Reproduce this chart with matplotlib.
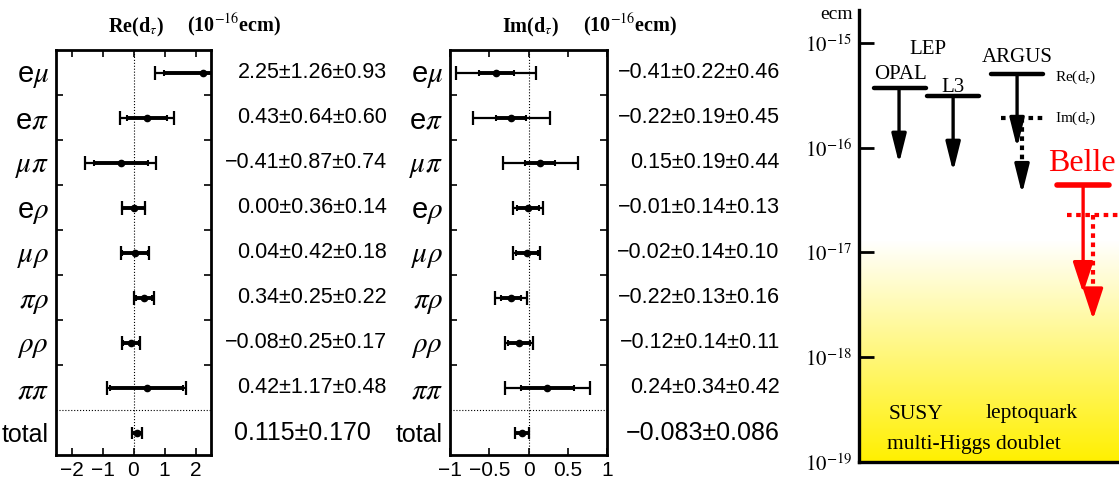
import numpy as np
import matplotlib
matplotlib.use('Agg')
import matplotlib.pyplot as plt
import matplotlib.transforms as mtransforms

plt.rcParams['font.family'] = ['Liberation Sans', 'DejaVu Sans']
plt.rcParams['mathtext.fontset'] = 'stix'

# --- DATA ---
modes = ['e$\\mu$', 'e$\\pi$', '$\\mu\\pi$', 'e$\\rho$', '$\\mu\\rho$',
         '$\\pi\\rho$', '$\\rho\\rho$', '$\\pi\\pi$']

re_val = [2.25, 0.43, -0.41, 0.00, 0.04, 0.34, -0.08, 0.42]
re_stat = [1.26, 0.64, 0.87, 0.36, 0.42, 0.25, 0.25, 1.17]
re_syst = [0.93, 0.60, 0.74, 0.14, 0.18, 0.22, 0.17, 0.48]
re_total = (0.115, 0.170)

im_val = [-0.41, -0.22, 0.15, -0.01, -0.02, -0.22, -0.12, 0.24]
im_stat = [0.22, 0.19, 0.19, 0.14, 0.14, 0.13, 0.14, 0.34]
im_syst = [0.46, 0.45, 0.44, 0.13, 0.10, 0.16, 0.11, 0.42]
im_total = (-0.083, 0.086)

# upper limits on |d_tau| (e cm)
exp_names = ['OPAL', 'L3', 'ARGUS', 'ARGUS', 'Belle', 'Belle']
exp_part = ['Re', 'Re', 'Re', 'Im', 'Re', 'Im']
exp_limit = [3.7e-16, 3.1e-16, 5.0e-16, 1.9e-16, 4.4e-17, 2.3e-17]

MINUS = '\u2212'
FIG_W, FIG_H = 11.19, 4.8


def fmt(v, nd=2):
    return f"{v:.{nd}f}".replace('-', MINUS)


def draw_panel(ax, val, stat, syst, total, xlim, xticks, xticklabels,
               title, txt_x, tot_txt_x):
    n = len(val)
    y = np.arange(n, 0, -1)  # first row at top
    val = np.array(val)
    stat = np.array(stat)
    syst = np.array(syst)
    tot_err = np.sqrt(stat ** 2 + syst ** 2)

    ax.set_xlim(*xlim)
    ax.set_ylim(-0.5, n + 0.5)
    ax.axvline(0, color='black', lw=0.8, ls=':', zorder=1)
    ax.axhline(0.5, color='black', lw=0.8, ls=':', zorder=1)

    ax.errorbar(val, y, xerr=tot_err, fmt='none', ecolor='black',
                elinewidth=1.6, capsize=4.8, capthick=1.6, zorder=3)
    ax.errorbar(val, y, xerr=stat, fmt='o', color='black', ms=4.5,
                elinewidth=2.8, capsize=2.5, capthick=1.5, zorder=4)
    ax.errorbar([total[0]], [0], xerr=[total[1]], fmt='o', color='black',
                ms=4.5, elinewidth=2.8, capsize=4.5, capthick=1.6, zorder=4)

    for sp in ax.spines.values():
        sp.set_linewidth(2)

    ax.set_xticks(xticks)
    ax.set_xticklabels(xticklabels, fontsize=15)
    ax.tick_params(axis='x', direction='in', top=True, bottom=True,
                   length=5, width=1.2, pad=4)
    ax.set_yticks(list(y) + [0])
    ax.set_yticklabels(modes + ['total'])
    ax.set_yticks(np.arange(1.5, n, 1.0), minor=True)
    ax.tick_params(axis='y', which='major', length=0, pad=5, labelsize=21)
    ax.tick_params(axis='y', which='minor', direction='in', left=True,
                   right=True, length=5, width=1.2)
    ax.get_yticklabels()[-1].set_fontsize(18)

    tr = mtransforms.blended_transform_factory(ax.transAxes, ax.transData)
    for yy, v, s, e in zip(y, val, stat, syst):
        ax.text(txt_x, yy, f"{fmt(v)}\u00b1{fmt(s)}\u00b1{fmt(e)}",
                transform=tr, ha='right', va='center', fontsize=15.5)
    ax.text(tot_txt_x, 0, f"{fmt(total[0], 3)}\u00b1{fmt(total[1], 3)}",
            transform=tr, ha='right', va='center', fontsize=18)

    ax.text(0.515, 1.055, title, transform=ax.transAxes, ha='center',
            va='center', fontsize=14.5, fontweight='bold',
            family='Liberation Serif')
    ax.text(1.15, 1.06, '(10$^{-16}$ecm)', transform=ax.transAxes,
            ha='center', va='center', fontsize=14.5, fontweight='bold',
            family='Liberation Serif')


fig = plt.figure(figsize=(FIG_W, FIG_H), dpi=100)
ax_re = fig.add_axes([56 / 1119, 1 - 455 / 480, 155 / 1119, 405 / 480])
ax_im = fig.add_axes([450 / 1119, 1 - 455 / 480, 157 / 1119, 405 / 480])

draw_panel(ax_re, re_val, re_stat, re_syst, re_total, (-2.5, 2.5),
           [-2, -1, 0, 1, 2], [MINUS + '2', MINUS + '1', '0', '1', '2'],
           'Re(d$_\\tau$)', 2.135, 2.03)
draw_panel(ax_im, im_val, im_stat, im_syst, im_total, (-1, 1),
           [-1, -0.5, 0, 0.5, 1],
           [MINUS + '1', MINUS + '0.5', '0', '0.5', '1'],
           'Im(d$_\\tau$)', 2.10, 2.10)

# --- right panel: upper limits ---
ax = fig.add_axes([859 / 1119, 1 - 462 / 480, 260 / 1119, 452 / 480])
ax.set_yscale('log')
ax.set_ylim(1e-19, 10 ** -14.686)
ax.set_xlim(0, 1)
ax.set_xticks([])
ax.spines['top'].set_visible(False)
ax.spines['right'].set_visible(False)
ax.spines['left'].set_linewidth(2.4)
ax.spines['bottom'].set_linewidth(2.4)
ax.set_yticks([1e-19, 1e-18, 1e-17, 1e-16, 1e-15])
ax.set_yticklabels(['$10^{-19}$', '$10^{-18}$', '$10^{-17}$',
                    '$10^{-16}$', '$10^{-15}$'])
ax.yaxis.set_minor_locator(matplotlib.ticker.NullLocator())
ax.tick_params(axis='y', direction='in', length=11, width=2,
               labelsize=15, pad=5)

# yellow gradient at the bottom
grad = np.linspace(0, 1, 200)
col = np.ones((200, 1, 3))
col[:, 0, 2] = grad
col[:, 0, 1] = 0.94 + 0.06 * grad
ax.imshow(col, extent=[0, 1, 0, 0.49], transform=ax.transAxes,
          origin='lower', aspect='auto', zorder=0, interpolation='bilinear')

# bar centres / half widths / arrow x / arrow length (decades)
bar_cx = [0.158, 0.362, 0.608, 0.630, 0.862, 0.90]
bar_hw = [0.10, 0.10, 0.10, 0.085, 0.10, 0.10]
arr_x = [0.154, 0.362, 0.608, 0.627, 0.862, 0.90]
arr_dec = [0.72, 0.72, 0.70, 0.72, 1.03, 1.0]

for name, part, lim, cx, hw, axx, dec in zip(exp_names, exp_part, exp_limit,
                                             bar_cx, bar_hw, arr_x, arr_dec):
    color = 'red' if name == 'Belle' else 'black'
    blw = 4.0 if name == 'Belle' else 3.2
    tip = lim * 10 ** (-dec)
    hs = 'head_length=0.8,head_width=0.2' if name != 'Belle' else \
        'head_length=0.85,head_width=0.28'
    if part == 'Re':
        ax.plot([cx - hw, cx + hw], [lim, lim], color=color, lw=blw,
                solid_capstyle='round', zorder=5, clip_on=False)
        ax.annotate('', xy=(axx, tip), xytext=(axx, lim),
                    arrowprops=dict(arrowstyle='-|>,' + hs, lw=2.4,
                                    color=color, mutation_scale=22,
                                    shrinkA=0, shrinkB=0), zorder=5)
    else:
        ax.plot([cx - hw, cx + hw], [lim, lim], color=color, lw=3,
                ls=(0, (1.1, 1.1)), zorder=5, clip_on=False)
        mid = tip * 10 ** 0.2
        ax.plot([axx, axx], [lim, mid], color=color, lw=3,
                ls=(0, (1.1, 1.1)), zorder=5)
        ax.annotate('', xy=(axx, tip), xytext=(axx, mid),
                    arrowprops=dict(arrowstyle='-|>,' + hs, lw=2.4,
                                    color=color, mutation_scale=22,
                                    shrinkA=0, shrinkB=0), zorder=5)

serif = 'Liberation Serif'
ax.text(-0.085, 0.99, 'ecm', transform=ax.transAxes, ha='center',
        va='center', fontsize=14, family=serif)
ax.text(0.265, 0.912, 'LEP', transform=ax.transAxes, ha='center',
        va='center', fontsize=15, family=serif)
ax.text(0.158, 0.858, 'OPAL', transform=ax.transAxes, ha='center',
        va='center', fontsize=15, family=serif)
ax.text(0.362, 0.828, 'L3', transform=ax.transAxes, ha='center',
        va='center', fontsize=15, family=serif)
ax.text(0.608, 0.895, 'ARGUS', transform=ax.transAxes, ha='center',
        va='center', fontsize=15, family=serif)
ax.text(0.754, 0.852, 'Re(d$_\\tau$)', transform=ax.transAxes, ha='left',
        va='center', fontsize=11, family=serif)
ax.text(0.754, 0.761, 'Im(d$_\\tau$)', transform=ax.transAxes, ha='left',
        va='center', fontsize=11, family=serif)
ax.text(0.858, 0.66, 'Belle', transform=ax.transAxes, ha='center',
        va='center', fontsize=23, family=serif, color='red')
ax.text(0.115, 0.104, 'SUSY', transform=ax.transAxes, ha='left',
        va='center', fontsize=15.5, family=serif)
ax.text(0.485, 0.108, 'leptoquark', transform=ax.transAxes, ha='left',
        va='center', fontsize=15.5, family=serif)
ax.text(0.108, 0.038, 'multi-Higgs doublet', transform=ax.transAxes,
        ha='left', va='center', fontsize=15.5, family=serif)

fig.savefig('out.png', dpi=100)
